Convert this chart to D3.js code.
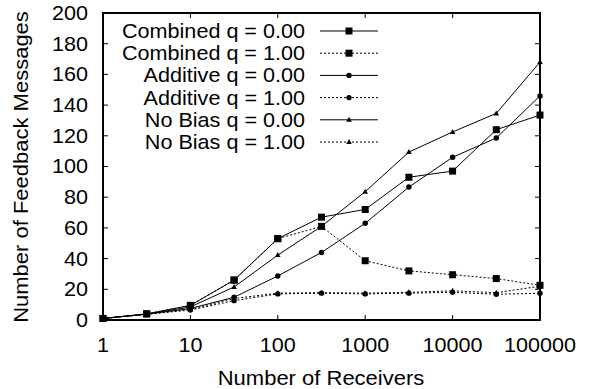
<!DOCTYPE html>
<html><head><meta charset="utf-8">
<script src="https://cdn.jsdelivr.net/npm/d3@7"></script>
<style>body{margin:0;background:#fff}svg{display:block}text{font-family:"Liberation Sans",Arial,sans-serif;fill:#000}</style>
</head><body><svg id="c" width="589" height="389"></svg>
<script>
const receivers = [1, 3.16, 10, 31.6, 100, 316, 1000, 3162, 10000, 31623, 100000];
const combinedQ0 = [1, 4, 9.5, 26, 53, 67, 72, 93, 97, 124, 133.5];
const combinedQ1 = [1, 4, 9.5, 26, 53, 61, 38.6, 32, 29.5, 27, 22.6];
const additiveQ0 = [1, 3.8, 7.5, 14.8, 28.7, 44, 63, 86.6, 106, 118.6, 146];
const additiveQ1 = [1, 3.7, 6.5, 12.6, 17, 17.5, 17, 17.5, 18, 16.8, 17.4];
const noBiasQ0 = [1, 3.8, 8.5, 21.5, 42.3, 61, 83.6, 109.4, 122.5, 134.6, 168];
const noBiasQ1 = [1, 3.7, 7, 14, 17.5, 17.8, 17.5, 18, 19, 17.8, 22];
const seriesNames = ["Combined q = 0.00","Combined q = 1.00","Additive q = 0.00","Additive q = 1.00","No Bias q = 0.00","No Bias q = 1.00"];
const xTicks = [1, 10, 100, 1000, 10000, 100000];
const yTicks = [0, 20, 40, 60, 80, 100, 120, 140, 160, 180, 200];

const series = [
  {name: seriesNames[0], values: combinedQ0, marker: "square", dashed: false},
  {name: seriesNames[1], values: combinedQ1, marker: "square", dashed: true},
  {name: seriesNames[2], values: additiveQ0, marker: "circle", dashed: false},
  {name: seriesNames[3], values: additiveQ1, marker: "circle", dashed: true},
  {name: seriesNames[4], values: noBiasQ0, marker: "triangle", dashed: false},
  {name: seriesNames[5], values: noBiasQ1, marker: "triangle", dashed: true}
];

const L = 103, R = 540, T = 13, B = 320;
const svg = d3.select("#c");
const x = d3.scaleLog().domain([1, 100000]).range([L, R]);
const y = d3.scaleLinear().domain([0, 200]).range([B, T]);
const fs = 20;

// ticks (inward, mirrored)
const g = svg.append("g");
const tl = 5;
xTicks.forEach(v => {
  g.append("line").attr("x1", x(v)).attr("x2", x(v)).attr("y1", B).attr("y2", B - tl).attr("stroke", "#000");
  g.append("line").attr("x1", x(v)).attr("x2", x(v)).attr("y1", T).attr("y2", T + tl).attr("stroke", "#000");
  g.append("text").attr("x", x(v)).attr("y", B + 32).attr("text-anchor", "middle").attr("font-size", fs)
    .attr("transform", `translate(${x(v)},0) scale(1.08,1) translate(${-x(v)},0)`).text(d3.format("d")(v));
});
yTicks.forEach(v => {
  g.append("line").attr("x1", L).attr("x2", L + tl).attr("y1", y(v)).attr("y2", y(v)).attr("stroke", "#000");
  g.append("line").attr("x1", R).attr("x2", R - tl).attr("y1", y(v)).attr("y2", y(v)).attr("stroke", "#000");
  g.append("text").attr("x", 88).attr("y", y(v) + 7).attr("text-anchor", "end").attr("font-size", fs)
    .attr("transform", `translate(88,0) scale(1.08,1) translate(-88,0)`).text(v);
});

// axis titles
svg.append("text").attr("x", 321).attr("y", 385).attr("text-anchor", "middle").attr("font-size", fs)
  .attr("transform", `translate(321,0) scale(1.1,1) translate(-321,0)`).text("Number of Receivers");
svg.append("text").attr("transform", "translate(28,167) rotate(-90) scale(1.1,1)").attr("text-anchor", "middle")
  .attr("font-size", fs).text("Number of Feedback Messages");

function drawMarker(sel, type, cx, cy) {
  if (type === "square") sel.append("rect").attr("x", cx - 3.5).attr("y", cy - 3.5).attr("width", 7).attr("height", 7).attr("fill", "#000");
  else if (type === "circle") sel.append("circle").attr("cx", cx).attr("cy", cy).attr("r", 2.7).attr("fill", "#000");
  else sel.append("path").attr("d", `M${cx},${cy - 3}L${cx + 2.8},${cy + 2}L${cx - 2.8},${cy + 2}Z`).attr("fill", "#000");
}

const line = d3.line().x((d, i) => x(receivers[i])).y(d => y(d));
const plot = svg.append("g");
series.forEach(s => {
  plot.append("path").datum(s.values).attr("d", line).attr("fill", "none").attr("stroke", "#000")
    .attr("stroke-width", 1).attr("stroke-dasharray", s.dashed ? "2,2" : null);
  s.values.forEach((v, i) => drawMarker(plot, s.marker, x(receivers[i]), y(v)));
});

// legend
const leg = svg.append("g");
series.forEach((s, i) => {
  const cy = 31 + i * 22.2;
  leg.append("text").attr("x", 305).attr("y", cy + 7).attr("text-anchor", "end").attr("font-size", 20)
    .attr("transform", `translate(305,0) scale(1.08,1) translate(-305,0)`).text(s.name);
  leg.append("line").attr("x1", 320).attr("x2", 378).attr("y1", cy).attr("y2", cy).attr("stroke", "#000")
    .attr("stroke-dasharray", s.dashed ? "2,2" : null);
  drawMarker(leg, s.marker, 349, cy);
});

// frame
svg.append("rect").attr("x", L).attr("y", T).attr("width", R - L).attr("height", B - T)
  .attr("fill", "none").attr("stroke", "#000").attr("stroke-width", 2);
</script></body></html>
